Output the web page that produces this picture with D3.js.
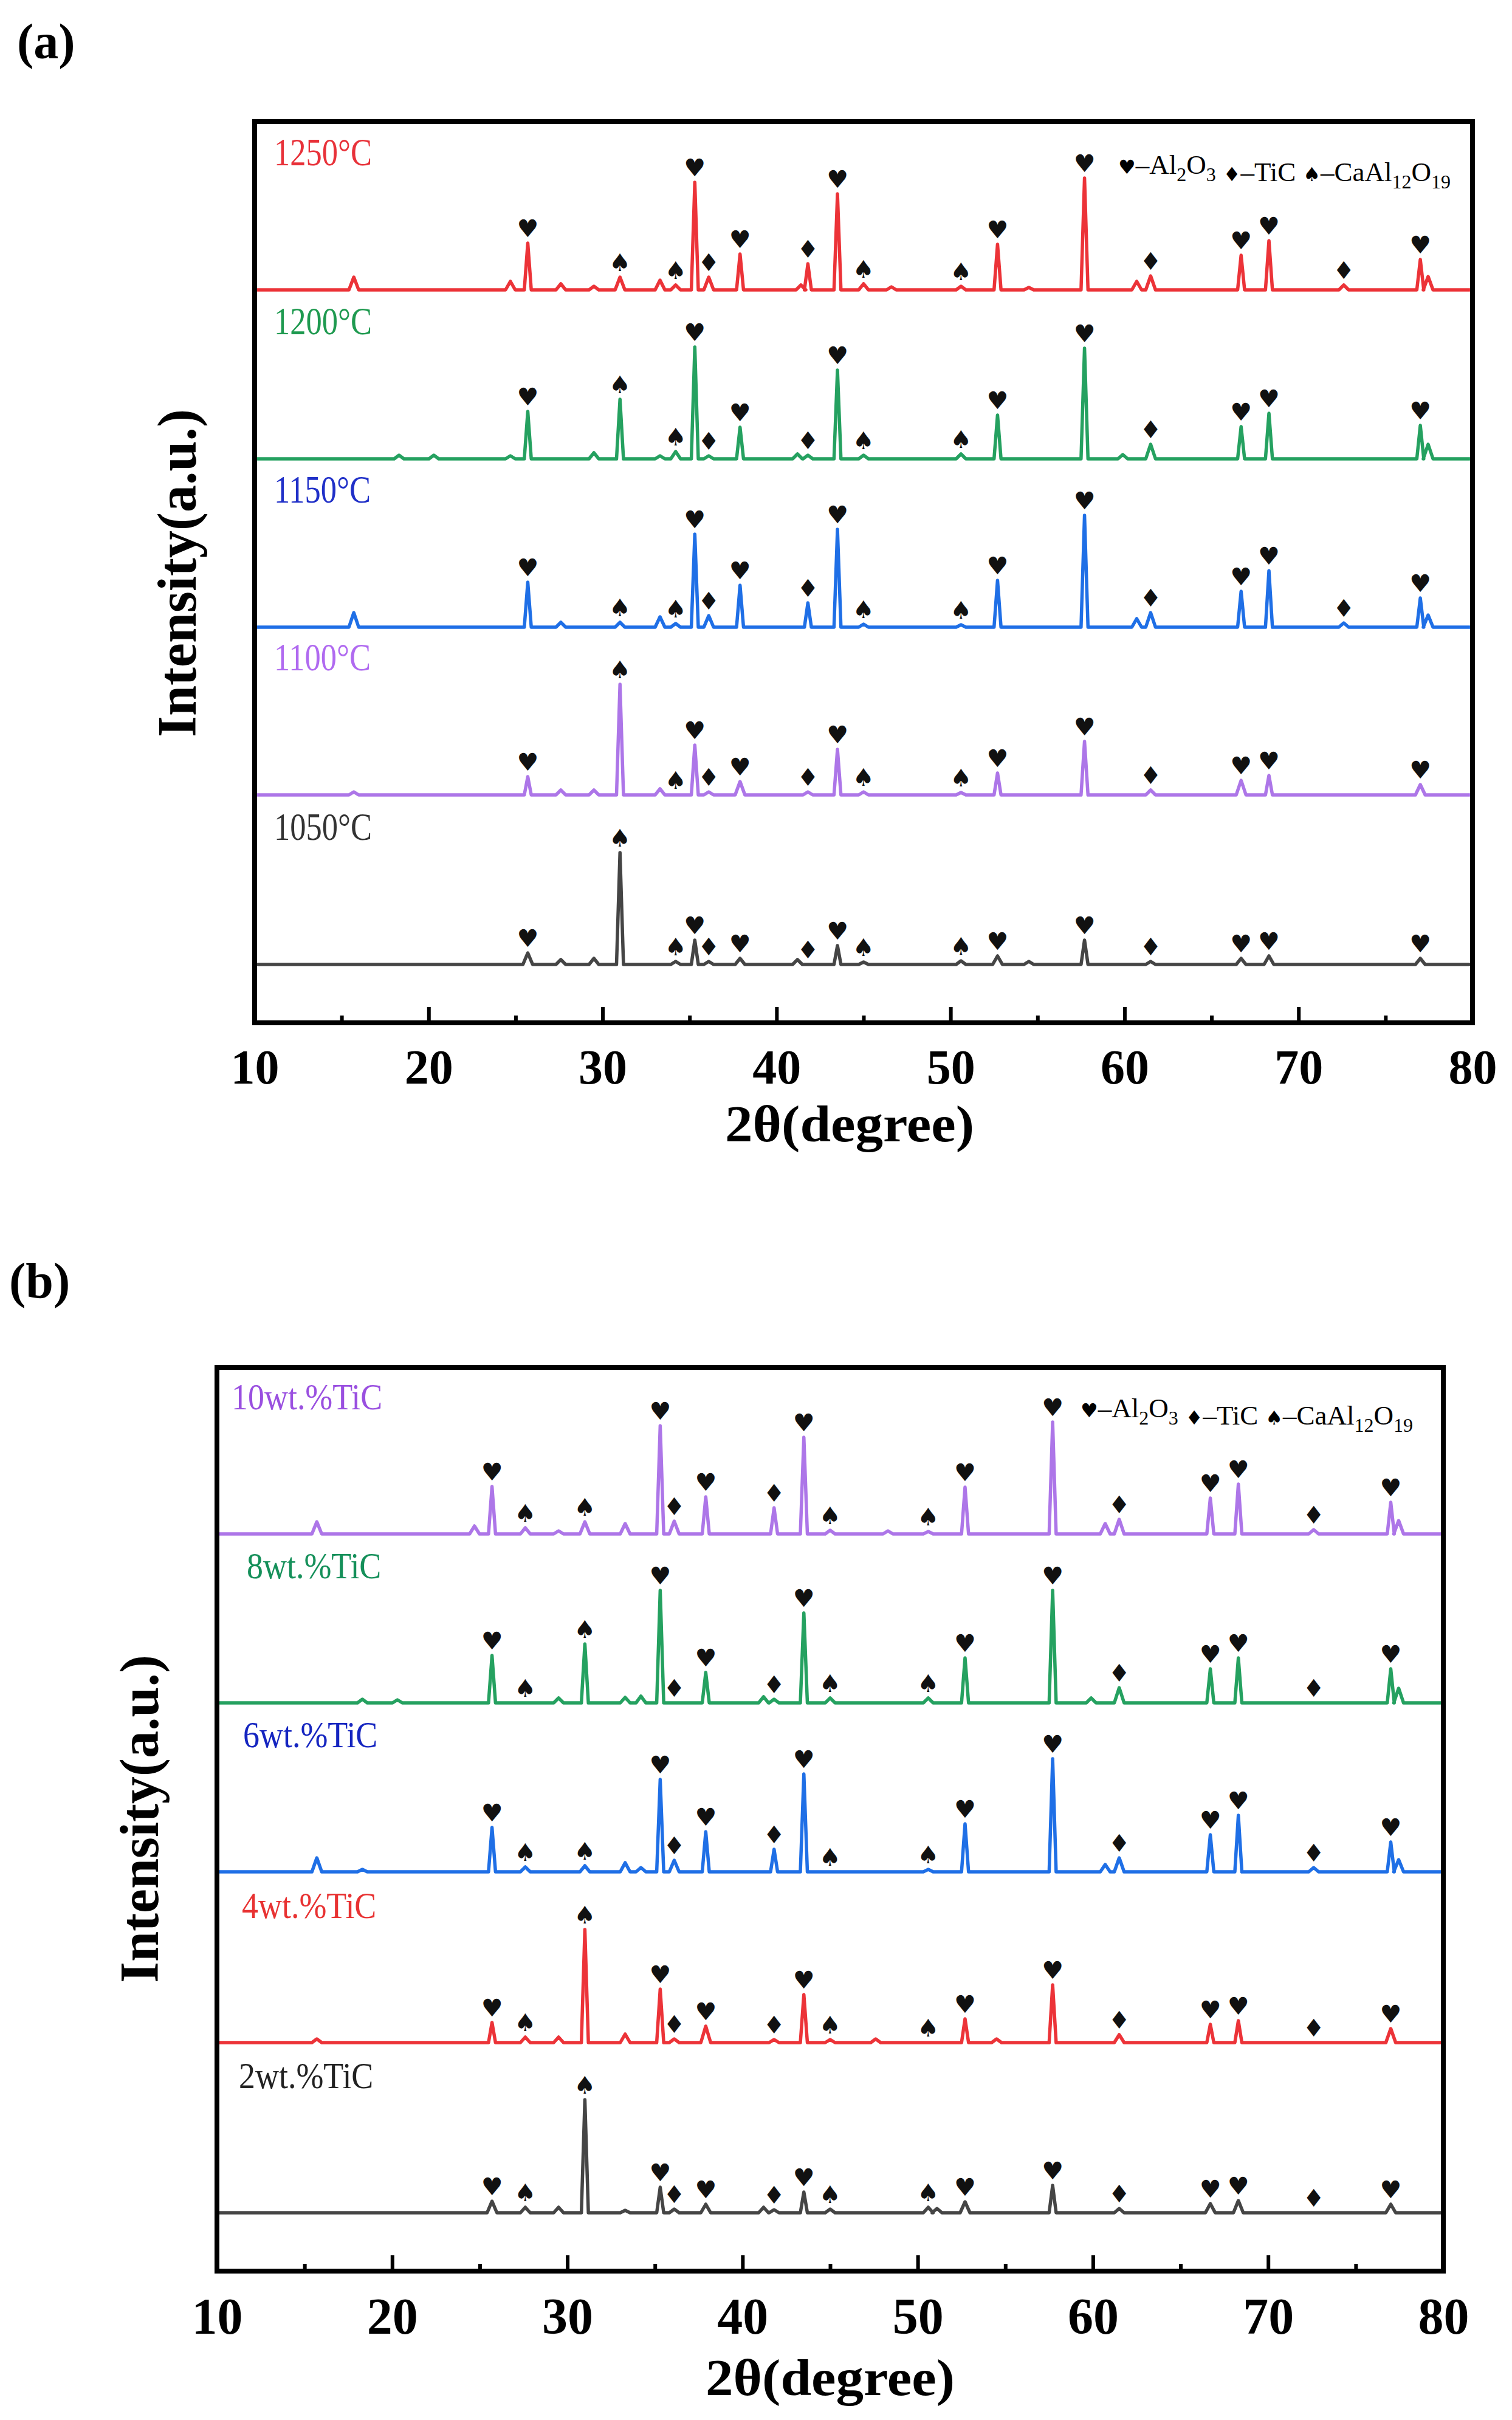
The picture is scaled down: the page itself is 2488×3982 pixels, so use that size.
<!DOCTYPE html>
<html><head><meta charset="utf-8">
<script src="https://cdn.jsdelivr.net/npm/d3@7"></script>
<style>body{margin:0;background:#fff} svg{display:block}</style>
</head><body>
<svg id="c" width="2488" height="3982"></svg>
<script>
// ---------------- DATA ----------------
const xTicks = [10,20,30,40,50,60,70,80];
const xMinorTicks = [15,25,35,45,55,65,75];
const xTitle = "2θ(degree)";
const yTitle = "Intensity(a.u.)";

// Panel (a): sintering temperature
const labelsA = ["1250°C","1200°C","1150°C","1100°C","1050°C"];
const offsetsA = [1206, 928, 651, 375, 96];
const peaks1250 = [[15.7,21],[24.7,14],[25.7,77],[27.6,10],[29.5,6],[31.0,21],[33.3,16],[34.2,8],[35.3,177],[36.1,21],[37.9,59],[41.4,8],[41.8,43],[43.5,158],[45.0,10],[46.6,5],[50.6,6],[52.7,75],[54.5,4],[57.7,184],[60.7,14],[61.5,23],[66.7,57],[68.3,81],[72.6,8],[77.0,50],[77.45,22]];
const peaks1200 = [[18.3,6],[20.3,6],[24.7,5],[25.7,78],[29.5,10],[31.0,98],[33.3,5],[34.2,12],[35.3,184],[36.1,5],[37.9,52],[41.2,8],[41.8,6],[43.5,146],[45.0,6],[50.6,8],[52.7,72],[57.7,182],[59.9,7],[61.5,24],[66.7,53],[68.3,75],[77.0,55],[77.45,24]];
const peaks1150 = [[15.7,24],[25.7,74],[27.6,8],[31.0,8],[33.3,17],[34.2,6],[35.3,153],[36.1,19],[37.9,69],[41.8,40],[43.5,161],[45.0,5],[50.6,4],[52.7,77],[57.7,184],[60.7,14],[61.5,24],[66.7,59],[68.3,93],[72.6,7],[77.0,48],[77.45,20]];
const peaks1100 = [[15.7,5],[25.7,30],[27.6,8],[29.5,8],[31.0,182],[33.3,10],[35.3,82],[36.1,5],[37.9,22],[41.8,5],[43.5,75],[45.0,5],[50.6,4],[52.7,36],[57.7,88],[61.5,8],[66.7,24],[68.3,32],[77.0,17]];
const peaks1050 = [[25.7,19],[27.6,8],[29.5,10],[31.0,184],[34.2,5],[35.3,40],[36.1,5],[37.9,10],[41.2,8],[43.5,31],[45.0,4],[50.6,6],[52.7,14],[54.5,5],[57.7,40],[61.5,5],[66.7,10],[68.3,14],[77.0,10]];
const marks1250 = [[25.7,"H"],[31.0,"S"],[34.2,"S"],[35.3,"H"],[36.1,"D"],[37.9,"H"],[41.8,"D"],[43.5,"H"],[45.0,"S"],[50.6,"S"],[52.7,"H"],[57.7,"H"],[61.5,"D"],[66.7,"H"],[68.3,"H"],[72.6,"D"],[77.0,"H"]];
const marks1200 = [[25.7,"H"],[31.0,"S"],[34.2,"S"],[35.3,"H"],[36.1,"D"],[37.9,"H"],[41.8,"D"],[43.5,"H"],[45.0,"S"],[50.6,"S"],[52.7,"H"],[57.7,"H"],[61.5,"D"],[66.7,"H"],[68.3,"H"],[77.0,"H"]];
const marks1150 = [[25.7,"H"],[31.0,"S"],[34.2,"S"],[35.3,"H"],[36.1,"D"],[37.9,"H"],[41.8,"D"],[43.5,"H"],[45.0,"S"],[50.6,"S"],[52.7,"H"],[57.7,"H"],[61.5,"D"],[66.7,"H"],[68.3,"H"],[72.6,"D"],[77.0,"H"]];
const marks1100 = [[25.7,"H"],[31.0,"S"],[34.2,"S"],[35.3,"H"],[36.1,"D"],[37.9,"H"],[41.8,"D"],[43.5,"H"],[45.0,"S"],[50.6,"S"],[52.7,"H"],[57.7,"H"],[61.5,"D"],[66.7,"H"],[68.3,"H"],[77.0,"H"]];
const marks1050 = [[25.7,"H"],[31.0,"S"],[34.2,"S"],[35.3,"H"],[36.1,"D"],[37.9,"H"],[41.8,"D"],[43.5,"H"],[45.0,"S"],[50.6,"S"],[52.7,"H"],[57.7,"H"],[61.5,"D"],[66.7,"H"],[68.3,"H"],[77.0,"H"]];

// Panel (b): TiC content
const labelsB = ["10wt.%TiC","8wt.%TiC","6wt.%TiC","4wt.%TiC","2wt.%TiC"];
const offsetsB = [1213, 935, 657, 376, 96];
const peaksW10 = [[15.7,20],[24.7,13],[25.7,78],[27.6,10],[29.5,5],[31.0,20],[33.3,17],[35.3,178],[36.1,21],[37.9,61],[41.8,43],[43.5,159],[45.0,6],[48.3,5],[50.6,4],[52.7,77],[57.7,184],[60.7,17],[61.5,24],[66.7,59],[68.3,82],[72.6,7],[77.0,52],[77.45,22]];
const peaksW8 = [[18.3,6],[20.3,5],[25.7,78],[29.5,8],[31.0,97],[33.3,9],[34.2,11],[35.3,185],[37.9,50],[41.2,10],[41.8,6],[43.5,148],[45.0,8],[50.6,8],[52.7,74],[57.7,185],[59.9,8],[61.5,25],[66.7,56],[68.3,74],[77.0,56],[77.45,24]];
const peaksW6 = [[15.7,23],[18.3,4],[25.7,73],[27.6,8],[31.0,10],[33.3,15],[34.2,7],[35.3,152],[36.1,19],[37.9,66],[41.8,37],[43.5,161],[50.6,4],[52.7,79],[57.7,186],[60.7,12],[61.5,23],[66.7,61],[68.3,93],[72.6,7],[77.0,49],[77.45,20]];
const peaksW4 = [[15.7,6],[25.7,33],[27.6,9],[29.5,9],[31.0,186],[33.3,14],[35.3,88],[36.1,6],[37.9,27],[41.8,5],[43.5,79],[45.0,5],[47.6,6],[52.7,39],[54.5,6],[57.7,95],[61.5,13],[66.7,30],[68.3,36],[77.0,23]];
const peaksW2 = [[25.7,19],[27.6,9],[29.5,9],[31.0,186],[33.3,4],[35.3,42],[36.1,6],[37.9,14],[41.2,9],[41.8,5],[43.5,34],[45.0,6],[50.6,9],[51.1,7],[52.7,18],[57.7,45],[61.5,7],[66.7,15],[68.3,20],[77.0,14]];
const marksB = [[25.7,"H"],[27.6,"S"],[31.0,"S"],[35.3,"H"],[36.1,"D"],[37.9,"H"],[41.8,"D"],[43.5,"H"],[45.0,"S"],[50.6,"S"],[52.7,"H"],[57.7,"H"],[61.5,"D"],[66.7,"H"],[68.3,"H"],[72.6,"D"],[77.0,"H"]];

const legendItems = [["♥","–Al","2","O","3"],["♦","–TiC"],["♠","–CaAl","12","O","19"]];

// ---------------- STYLE / LAYOUT ----------------
const glyph = {H:"♥", D:"♦", S:"♠"};
const serif = "'Liberation Serif','Times New Roman',Times,serif";
const lineColorsA = ["#ec3338","#25a160","#1f6fe6","#ad76e8","#454545"];
const textColorsA = ["#e8323a","#1f9a50","#2030c8","#b06af0","#333333"];
const lineColorsB = ["#ad76e8","#25a160","#1f6fe6","#ec3338","#454545"];
const textColorsB = ["#9a50e0","#15905a","#1525c0","#e83232","#222222"];

const svg = d3.select("#c");

function drawPanel(cfg){
  const g = svg.append("g");
  const x = d3.scaleLinear().domain([10,80]).range([cfg.l, cfg.r]);
  const y = d3.scaleLinear().domain([0, cfg.b - cfg.t]).range([cfg.b, cfg.t]);

  const clipId = "clip" + cfg.id;
  svg.append("clipPath").attr("id", clipId).append("rect")
    .attr("x", cfg.l).attr("y", cfg.t).attr("width", cfg.r-cfg.l).attr("height", cfg.b-cfg.t);

  const line = d3.line().x(d=>x(d[0])).y(d=>y(d[1]));

  cfg.series.forEach((s,i)=>{
    const off = cfg.offsets[i];
    const pts = [[10,off]];
    s.slice().sort((a,b)=>a[0]-b[0]).forEach(p=>{
      const hw = p[1] < 30 ? 0.28 : 0.2;
      pts.push([p[0]-hw, off],[p[0], off+p[1]],[p[0]+hw, off]);
    });
    pts.push([80,off]);
    g.append("path").attr("d", line(pts)).attr("fill","none")
      .attr("stroke", cfg.lineColors[i]).attr("stroke-width", 5.5)
      .attr("stroke-linejoin","round").attr("clip-path", `url(#${clipId})`);

    // phase markers
    cfg.marks[i].forEach(m=>{
      const pk = s.find(p=>Math.abs(p[0]-m[0])<0.05);
      const h = pk ? pk[1] : 0;
      g.append("text").attr("x", x(m[0])).attr("y", y(off + h + 24))
        .attr("text-anchor","middle").attr("dominant-baseline","central")
        .attr("font-family","'DejaVu Sans',sans-serif").attr("font-size", 40)
        .attr("fill","#111").text(glyph[m[1]]);
    });

    // series label
    const t = g.append("text").attr("x", cfg.l + cfg.labelDx[i]).attr("y", y(off + 205))
      .attr("font-family", serif).attr("font-size", cfg.labelSize)
      .attr("fill", cfg.textColors[i]).text(cfg.labels[i]);
    const w = t.node().getComputedTextLength();
    t.attr("textLength", w*cfg.labelSquash).attr("lengthAdjust","spacingAndGlyphs");
  });

  // frame
  g.append("rect").attr("x", cfg.l).attr("y", cfg.t).attr("width", cfg.r-cfg.l).attr("height", cfg.b-cfg.t)
    .attr("fill","none").attr("stroke","#000").attr("stroke-width", 8);

  // bottom axis: ticks pointing inward
  const ax = g.append("g").attr("transform", `translate(0,${cfg.b})`)
    .call(d3.axisBottom(x).tickValues(xTicks).tickSize(-26).tickSizeOuter(0).tickFormat(d3.format("d")));
  ax.select(".domain").remove();
  ax.selectAll(".tick line").attr("stroke","#000").attr("stroke-width",6);
  ax.selectAll(".tick text").attr("y", cfg.tickBase).attr("dy", null)
    .attr("font-family", serif).attr("font-weight","bold").attr("font-size", cfg.tickSize).attr("fill","#000");
  const axm = g.append("g").attr("transform", `translate(0,${cfg.b})`)
    .call(d3.axisBottom(x).tickValues(xMinorTicks).tickSize(-12).tickSizeOuter(0).tickFormat(""));
  axm.select(".domain").remove();
  axm.selectAll(".tick line").attr("stroke","#000").attr("stroke-width",6);

  // axis titles
  g.append("text").attr("x", cfg.xTitleX).attr("y", cfg.xTitleY).attr("text-anchor","middle")
    .attr("font-family", serif).attr("font-weight","bold").attr("font-size", 84)
    .attr("textLength", 410).attr("lengthAdjust","spacingAndGlyphs").text(xTitle);
  g.append("text").attr("transform", `translate(${cfg.yTitleX},${cfg.yTitleY}) rotate(-90)`)
    .attr("text-anchor","middle").attr("font-family", serif).attr("font-weight","bold")
    .attr("font-size", 90).text(yTitle);

  // panel tag
  g.append("text").attr("x", cfg.tagX).attr("y", cfg.tagY).attr("font-family", serif)
    .attr("font-weight","bold").attr("font-size", 82).text(cfg.tag);

  // legend
  const lg = g.append("text").attr("x", cfg.legX).attr("y", cfg.legY)
    .attr("font-family", serif).attr("font-size", 45).attr("fill","#000");
  legendItems.forEach((it,k)=>{
    lg.append("tspan").attr("font-family","'DejaVu Sans',sans-serif").attr("font-size",32)
      .attr("dx", k===0?0:12).text(it[0]);
    lg.append("tspan").text(it[1]);
    for(let j=2;j<it.length;j+=2){
      lg.append("tspan").attr("font-size",32).attr("dy",12).text(it[j]);
      if(it[j+1]!==undefined){
        lg.append("tspan").attr("dy",-12).text(it[j+1]);
      } else {
        lg.append("tspan").attr("dy",-12).text("");
      }
    }
  });
}

drawPanel({id:"a", tag:"(a)", tagX:28, tagY:96, l:419, r:2423, t:200, b:1683,
  series:[peaks1250,peaks1200,peaks1150,peaks1100,peaks1050],
  marks:[marks1250,marks1200,marks1150,marks1100,marks1050],
  offsets:offsetsA, labels:labelsA, lineColors:lineColorsA, textColors:textColorsA,
  labelDx:[32,32,32,32,32], labelSize:64, labelSquash:0.82,
  tickBase:100, tickSize:80, xTitleX:1398, xTitleY:1878, yTitleX:322, yTitleY:943,
  legX:1840, legY:286});

drawPanel({id:"b", tag:"(b)", tagX:15, tagY:2135, l:357, r:2375, t:2250, b:3737,
  series:[peaksW10,peaksW8,peaksW6,peaksW4,peaksW2],
  marks:[marksB,marksB,marksB,marksB,marksB],
  offsets:offsetsB, labels:labelsB, lineColors:lineColorsB, textColors:textColorsB,
  labelDx:[24,49,43,41,36], labelSize:62, labelSquash:0.87,
  tickBase:103, tickSize:84, xTitleX:1366, xTitleY:3941, yTitleX:260, yTitleY:2993,
  legX:1778, legY:2332});
</script>
</body></html>
